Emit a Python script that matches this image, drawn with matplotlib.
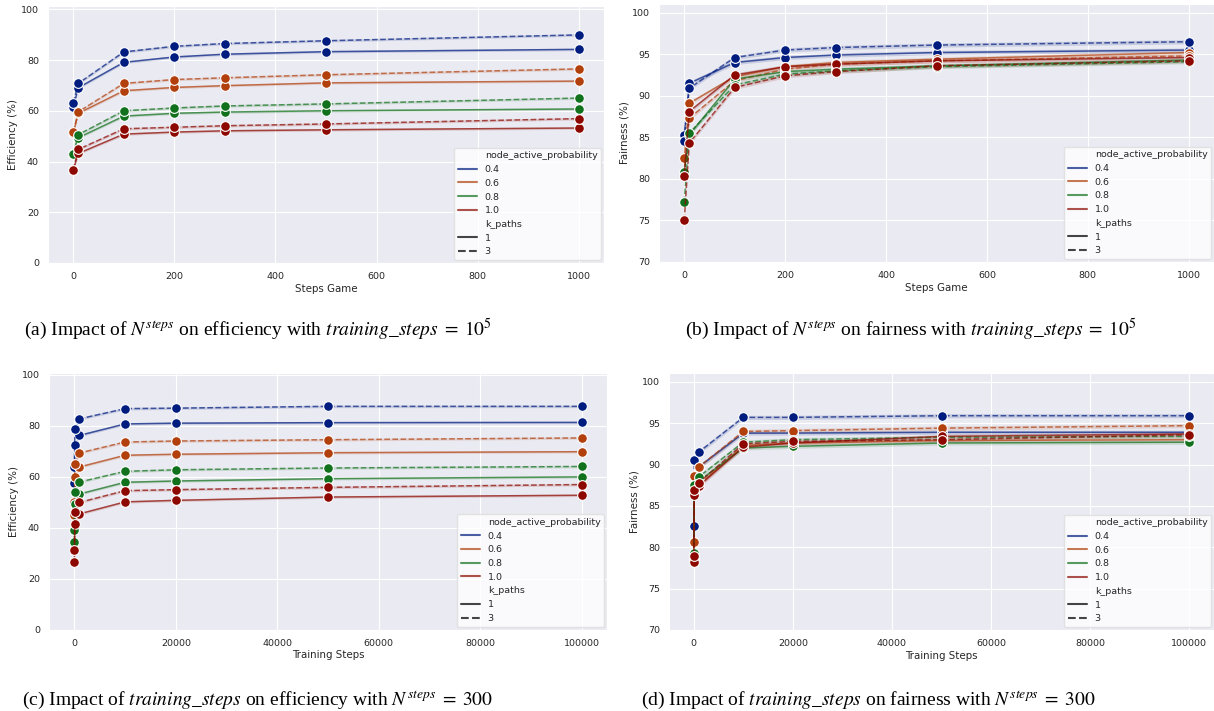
import matplotlib
matplotlib.use("Agg")
import matplotlib.pyplot as plt
from matplotlib.lines import Line2D
import seaborn as sns

sns.set_style("darkgrid")
plt.rcParams["font.family"] = ["DejaVu Sans"]
plt.rcParams["mathtext.fontset"] = "stix"

probs = ["0.4", "0.6", "0.8", "1.0"]
colors = sns.color_palette("dark", 4)

steps_game = [0, 10, 100, 200, 300, 500, 1000]
training_steps = [0, 100, 1000, 10000, 20000, 50000, 100000]

# efficiency vs steps game, k_paths = 1 / 3
eff_game_k1 = {
    "0.4": [61.5, 69.1, 79.1, 81.2, 82.3, 83.3, 84.2],
    "0.6": [51.2, 59.0, 67.9, 69.2, 69.9, 71.0, 71.7],
    "0.8": [42.8, 49.4, 57.9, 59.0, 59.5, 60.0, 60.7],
    "1.0": [36.7, 43.2, 50.8, 51.6, 52.1, 52.5, 53.2],
}
eff_game_k3 = {
    "0.4": [63.2, 70.8, 83.2, 85.4, 86.5, 87.6, 89.9],
    "0.6": [51.6, 59.6, 70.8, 72.3, 73.0, 74.2, 76.5],
    "0.8": [42.9, 50.6, 60.0, 61.1, 61.9, 62.7, 65.0],
    "1.0": [36.8, 44.8, 52.9, 53.5, 54.1, 54.8, 56.9],
}

# fairness vs steps game
fair_game_k1 = {
    "0.4": [85.3, 91.5, 94.0, 94.6, 94.9, 95.2, 95.5],
    "0.6": [82.5, 89.1, 92.3, 93.5, 94.0, 94.4, 95.2],
    "0.8": [80.8, 85.3, 92.0, 92.9, 93.2, 93.6, 94.3],
    "1.0": [80.4, 88.1, 92.5, 93.5, 93.8, 94.2, 94.6],
}
fair_game_k3 = {
    "0.4": [84.6, 90.9, 94.6, 95.5, 95.8, 96.1, 96.5],
    "0.6": [80.5, 87.3, 91.8, 93.2, 93.8, 94.2, 94.8],
    "0.8": [77.2, 85.5, 91.3, 92.6, 93.0, 93.5, 94.1],
    "1.0": [75.0, 84.3, 91.0, 92.4, 92.9, 93.6, 94.2],
}

# efficiency vs training steps
eff_train_k1 = {
    "0.4": [57.5, 72.3, 76.2, 80.7, 81.0, 81.2, 81.3],
    "0.6": [45.0, 59.9, 63.8, 68.4, 68.8, 69.4, 69.8],
    "0.8": [34.4, 49.4, 53.2, 57.8, 58.3, 59.2, 59.9],
    "1.0": [26.5, 41.6, 45.4, 50.1, 50.7, 52.0, 52.7],
}
eff_train_k3 = {
    "0.4": [63.8, 78.8, 82.7, 86.7, 86.9, 87.6, 87.6],
    "0.6": [50.0, 65.1, 69.3, 73.6, 74.0, 74.5, 75.2],
    "0.8": [38.9, 53.9, 57.9, 62.1, 62.7, 63.4, 64.0],
    "1.0": [31.1, 46.0, 49.9, 54.5, 54.9, 55.8, 56.9],
}

# fairness vs training steps
fair_train_k1 = {
    "0.4": [79.0, 87.0, 89.7, 93.8, 93.8, 93.9, 93.9],
    "0.6": [78.5, 86.5, 87.5, 92.3, 92.6, 92.9, 93.0],
    "0.8": [78.8, 87.0, 88.0, 92.0, 92.2, 92.6, 92.7],
    "1.0": [78.2, 86.3, 87.4, 92.1, 92.6, 93.4, 93.7],
}
fair_train_k3 = {
    "0.4": [82.6, 90.6, 91.5, 95.7, 95.7, 95.9, 95.9],
    "0.6": [80.6, 88.6, 89.7, 94.0, 94.1, 94.4, 94.7],
    "0.8": [79.3, 87.5, 88.5, 92.7, 93.0, 93.3, 93.4],
    "1.0": [78.9, 86.9, 87.8, 92.5, 92.8, 93.0, 93.6],
}

W, H = 1214, 711


def px_axes(fig, left, right, top, bottom):
    return fig.add_axes([left / W, (H - bottom) / H, (right - left) / W, (bottom - top) / H])


def draw_panel(ax, x, k1, k3, ylim, yticks, xlabel, ylabel, band):
    for p, c in zip(probs, colors):
        for data, ls in [(k1, "-"), (k3, "--")]:
            y = data[p]
            ax.fill_between(x, [v - band for v in y], [v + band for v in y],
                            color=c, alpha=0.15, lw=0)
            ax.plot(x, y, color=c, ls=ls, lw=1.1, alpha=0.7)
            ax.plot(x, y, ls="none", marker="o", ms=7, mfc=c, mec="white", mew=0.8)
    ax.set_ylim(*ylim)
    ax.set_yticks(yticks)
    ax.margins(x=0.05)
    ax.set_xlabel(xlabel, fontsize=7.4, labelpad=2)
    ax.set_ylabel(ylabel, fontsize=7.4, labelpad=2)
    ax.tick_params(labelsize=6.8, pad=3)

    handles = [Line2D([], [], color="none")]
    labels = ["node_active_probability"]
    for p, c in zip(probs, colors):
        handles.append(Line2D([], [], color=c, lw=1.5, alpha=0.7))
        labels.append(p)
    handles.append(Line2D([], [], color="none"))
    labels.append("k_paths")
    handles.append(Line2D([], [], color="#444444", lw=1.5, ls="-"))
    labels.append("1")
    handles.append(Line2D([], [], color="#444444", lw=1.5, ls="--"))
    labels.append("3")
    ax.legend(handles, labels, loc="lower right", fontsize=6.8, handlelength=2,
              borderaxespad=0.3, labelspacing=0.5, borderpad=0.4,
              framealpha=0.8, facecolor="white", edgecolor="#dddddd")


fig = plt.figure(figsize=(W / 100, H / 100), dpi=100)

ax_a = px_axes(fig, 48, 604, 6, 263)
draw_panel(ax_a, steps_game, eff_game_k1, eff_game_k3, (0, 101.3),
           range(0, 101, 20), "Steps Game", "Efficiency (%)", 0.5)

ax_b = px_axes(fig, 659, 1214, 3.5, 262)
draw_panel(ax_b, steps_game, fair_game_k1, fair_game_k3, (70, 101.1),
           range(70, 101, 5), "Steps Game", "Fairness (%)", 0.25)

ax_c = px_axes(fig, 49, 607, 373, 629.5)
draw_panel(ax_c, training_steps, eff_train_k1, eff_train_k3, (0, 100.7),
           range(0, 101, 20), "Training Steps", "Efficiency (%)", 0.5)

ax_d = px_axes(fig, 669, 1214, 372.7, 630)
draw_panel(ax_d, training_steps, fair_train_k1, fair_train_k3, (70, 101.1),
           range(70, 101, 5), "Training Steps", "Fairness (%)", 0.25)

cap = dict(fontsize=14, family="Liberation Serif", ha="center", va="baseline", color="black")
fig.text(258 / W, (H - 335) / H,
         r"(a) Impact of $N^{steps}$ on efficiency with $training\_steps\;=\;10^5$", **cap)
fig.text(911 / W, (H - 335) / H,
         r"(b) Impact of $N^{steps}$ on fairness with $training\_steps\;=\;10^5$", **cap)
fig.text(258 / W, (H - 705) / H,
         r"(c) Impact of $training\_steps$ on efficiency with $N^{steps}\;=\;300$", **cap)
fig.text(868 / W, (H - 705) / H,
         r"(d) Impact of $training\_steps$ on fairness with $N^{steps}\;=\;300$", **cap)

fig.savefig("out.png", dpi=100)
